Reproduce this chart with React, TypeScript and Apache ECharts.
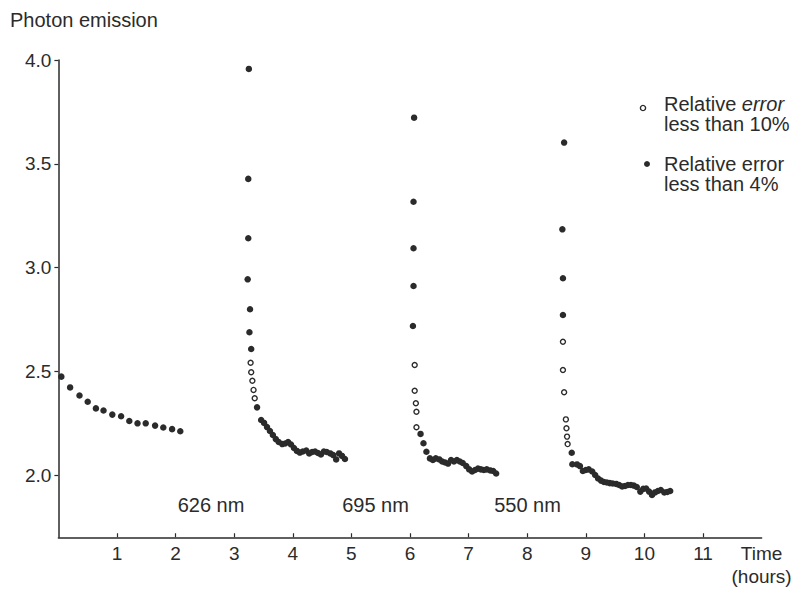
import React, { useEffect, useRef } from "react";
import * as echarts from "echarts";

// Time (hours), photon emission
const baselineFilled = [
  [0.05, 2.474], [0.2, 2.422], [0.36, 2.383], [0.5, 2.353], [0.64, 2.321], [0.77, 2.311],
  [0.92, 2.291], [1.07, 2.283], [1.21, 2.26], [1.35, 2.249], [1.49, 2.249], [1.65, 2.238],
  [1.79, 2.229], [1.94, 2.221], [2.08, 2.211],
];

const nm626Filled = [
  [3.25, 3.957], [3.24, 3.427], [3.24, 3.141], [3.23, 2.943], [3.27, 2.799], [3.26, 2.688],
  [3.29, 2.607], [3.39, 2.326],
  [3.46, 2.265], [3.51, 2.251], [3.56, 2.231], [3.61, 2.212], [3.66, 2.193], [3.71, 2.173],
  [3.76, 2.159], [3.82, 2.149], [3.87, 2.152], [3.92, 2.159], [3.97, 2.147], [4.02, 2.13],
  [4.07, 2.116], [4.12, 2.108], [4.17, 2.113], [4.23, 2.118], [4.28, 2.104], [4.33, 2.111],
  [4.38, 2.113], [4.43, 2.106], [4.48, 2.099], [4.53, 2.113], [4.58, 2.111], [4.64, 2.104],
  [4.69, 2.096], [4.74, 2.075], [4.79, 2.104], [4.84, 2.092], [4.89, 2.077],
];
const nm626Open = [
  [3.28, 2.541], [3.29, 2.495], [3.31, 2.454], [3.33, 2.41], [3.35, 2.37],
];

const nm695Filled = [
  [6.07, 3.722], [6.06, 3.317], [6.06, 3.093], [6.06, 2.911], [6.05, 2.718],
  [6.18, 2.198], [6.23, 2.153], [6.28, 2.112],
  [6.34, 2.08], [6.39, 2.072], [6.44, 2.08], [6.5, 2.075], [6.55, 2.065], [6.6, 2.06],
  [6.65, 2.055], [6.7, 2.072], [6.75, 2.065], [6.8, 2.072], [6.85, 2.065], [6.9, 2.058],
  [6.96, 2.043], [7.01, 2.027], [7.06, 2.017], [7.11, 2.024], [7.16, 2.031], [7.21, 2.027],
  [7.26, 2.024], [7.31, 2.027], [7.37, 2.022], [7.42, 2.019], [7.47, 2.007],
];
const nm695Open = [
  [6.08, 2.53], [6.08, 2.406], [6.1, 2.346], [6.11, 2.305], [6.11, 2.23],
];

const nm550Filled = [
  [8.63, 3.602], [8.6, 3.184], [8.61, 2.948], [8.61, 2.771],
  [8.76, 2.107],
  [8.77, 2.052], [8.85, 2.051], [8.9, 2.043], [8.95, 2.019], [9.0, 2.024], [9.05, 2.027],
  [9.11, 2.017], [9.16, 2.0], [9.21, 1.983], [9.26, 1.973], [9.31, 1.966], [9.36, 1.964],
  [9.41, 1.961], [9.46, 1.959], [9.52, 1.957], [9.57, 1.952], [9.62, 1.945], [9.67, 1.947],
  [9.72, 1.952], [9.77, 1.952], [9.82, 1.949], [9.87, 1.942], [9.93, 1.92], [9.98, 1.933],
  [10.03, 1.935], [10.08, 1.92], [10.13, 1.904], [10.18, 1.916], [10.23, 1.923], [10.28, 1.928],
  [10.34, 1.916], [10.39, 1.918], [10.44, 1.923],
];
const nm550Open = [
  [8.61, 2.642], [8.61, 2.506], [8.63, 2.399], [8.66, 2.268], [8.67, 2.225], [8.68, 2.185],
  [8.69, 2.149],
];

const xTickValues = [1, 2, 3, 4, 5, 6, 7, 8, 9, 10, 11];
const yTickValues = [2.0, 2.5, 3.0, 3.5, 4.0];
const wavelengthLabels = ["626 nm", "695 nm", "550 nm"];
const legendNames = ["Relative error less than 10%", "Relative error less than 4%"];

const FONT = '"Liberation Sans", Arial, Helvetica, sans-serif';
const INK = "#2b2b2b";

export default function App() {
  const ref = useRef<HTMLDivElement>(null);

  useEffect(() => {
    if (!ref.current) return;
    const chart = echarts.init(ref.current, null, { renderer: "svg" });

    const filled = [...baselineFilled, ...nm626Filled, ...nm695Filled, ...nm550Filled];
    const open = [...nm626Open, ...nm695Open, ...nm550Open];

    chart.setOption({
      animation: false,
      backgroundColor: "#ffffff",
      textStyle: { fontFamily: FONT },
      grid: { left: 58.4, right: 40.4, top: 60, bottom: 51.75, containLabel: false },
      xAxis: {
        type: "value",
        min: 0,
        max: 12,
        name: "Time\n(hours)",
        nameLocation: "end",
        nameGap: 0,
        nameTextStyle: {
          fontFamily: FONT,
          fontSize: 19,
          color: INK,
          align: "center",
          verticalAlign: "top",
          lineHeight: 23,
          padding: [5, 0, 0, 0],
        },
        axisLine: { show: true, lineStyle: { color: INK, width: 1.5 } },
        axisTick: { show: true, inside: true, length: 4, customValues: xTickValues, lineStyle: { color: INK, width: 1.2 } },
        axisLabel: { customValues: xTickValues, fontSize: 19, color: INK, margin: 7, fontFamily: FONT },
        splitLine: { show: false },
      },
      yAxis: {
        type: "value",
        min: 1.7,
        max: 4.0,
        axisLine: { show: true, lineStyle: { color: INK, width: 1.5 } },
        axisTick: { show: true, inside: false, length: 4, customValues: yTickValues, lineStyle: { color: INK, width: 1.2 } },
        axisLabel: {
          customValues: yTickValues,
          fontSize: 19,
          color: INK,
          margin: 7,
          fontFamily: FONT,
          formatter: (v: number) => v.toFixed(1),
        },
        splitLine: { show: false },
      },
      series: [
        {
          name: legendNames[1],
          type: "scatter",
          data: filled,
          symbol: "circle",
          symbolSize: 6.5,
          itemStyle: { color: INK, opacity: 1 },
          z: 3,
        },
        {
          name: legendNames[0],
          type: "scatter",
          data: open,
          symbol: "circle",
          symbolSize: 5,
          itemStyle: { color: "#ffffff", borderColor: INK, borderWidth: 1.4, opacity: 1 },
          z: 4,
        },
      ],
      graphic: [
        {
          type: "text",
          left: 10,
          top: 10,
          style: { text: "Photon emission", fontSize: 20, fontFamily: FONT, fill: INK },
        },
        {
          type: "text",
          x: 211,
          y: 505,
          style: { text: wavelengthLabels[0], fontSize: 20, fontFamily: FONT, fill: INK, align: "center", verticalAlign: "middle" },
        },
        {
          type: "text",
          x: 375.5,
          y: 505,
          style: { text: wavelengthLabels[1], fontSize: 20, fontFamily: FONT, fill: INK, align: "center", verticalAlign: "middle" },
        },
        {
          type: "text",
          x: 527.5,
          y: 505,
          style: { text: wavelengthLabels[2], fontSize: 20, fontFamily: FONT, fill: INK, align: "center", verticalAlign: "middle" },
        },
        {
          type: "circle",
          shape: { cx: 643, cy: 108, r: 2.6 },
          style: { fill: "#ffffff", stroke: INK, lineWidth: 1.4 },
        },
        {
          type: "text",
          x: 664,
          y: 114,
          style: {
            text: "Relative {i|error}\nless than 10%",
            fontSize: 20,
            lineHeight: 20,
            fontFamily: FONT,
            fill: INK,
            align: "left",
            verticalAlign: "middle",
            rich: { i: { fontStyle: "italic", fontSize: 20, lineHeight: 20, fontFamily: FONT, fill: INK } },
          },
        },
        {
          type: "circle",
          shape: { cx: 647, cy: 164, r: 3 },
          style: { fill: INK },
        },
        {
          type: "text",
          x: 664,
          y: 173.5,
          style: {
            text: "Relative error\nless than 4%",
            fontSize: 20,
            lineHeight: 20,
            fontFamily: FONT,
            fill: INK,
            align: "left",
            verticalAlign: "middle",
          },
        },
      ],
    });

    return () => chart.dispose();
  }, []);

  return (
    <div
      ref={ref}
      style={{ position: "fixed", left: 0, top: 0, width: 802, height: 589, background: "#fff" }}
    />
  );
}
